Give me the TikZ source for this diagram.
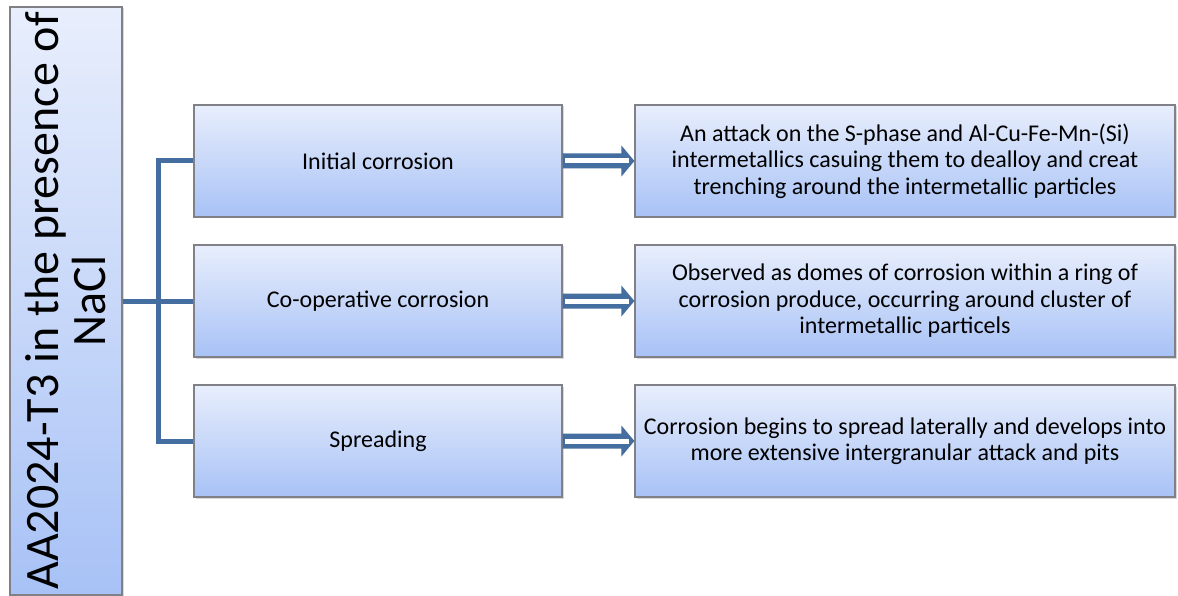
\documentclass[tikz,border=0pt]{standalone}
\usepackage{fontspec}
\setmainfont{Carlito}
\usetikzlibrary{shadows,calc}
\definecolor{connc}{RGB}{68,110,160}
\definecolor{boxtop}{RGB}{232,238,252}
\definecolor{boxbot}{RGB}{168,194,246}
\definecolor{boxline}{RGB}{128,128,134}
\newcommand\dblarrow[2]{%
  \fill[connc] ($(#1.east)+(0,-7.5)$) -- ($(#2.west)+(-13,-7.5)$) -- ($(#2.west)+(-13,-15.5)$) -- (#2.west) -- ($(#2.west)+(-13,15.5)$) -- ($(#2.west)+(-13,7.5)$) -- ($(#1.east)+(0,7.5)$) -- cycle;
  \fill[white] ($(#1.east)+(2.5,-2.5)$) rectangle ($(#2.west)+(-5,2.5)$);}
\begin{document}
\begin{tikzpicture}[x=1pt,y=-1pt,
  box/.style={draw=boxline, line width=1.2pt, top color=boxtop, bottom color=boxbot,
    align=center, inner sep=4pt,
    drop shadow={opacity=0.3, shadow xshift=1.5pt, shadow yshift=-1.5pt},
    font=\fontsize{24}{26.5}\selectfont},
  midbox/.style={box, minimum width=368pt, minimum height=112pt},
  rightbox/.style={box, minimum width=540pt, minimum height=112pt},
  conn/.style={draw=connc, line width=5pt}]
\useasboundingbox (0,0) rectangle (1178,596);
\node[box, minimum width=112pt, minimum height=588pt] (src) at (66,301) {};
\node[rotate=90, align=center, font=\fontsize{48}{47}\selectfont] (srctext) at (src.center) {AA2024-T3 in the presence of\\NaCl};

\node[midbox] (m1) at (378,161) {Initial corrosion};
\node[midbox] (m2) at (378,301) {Co-operative corrosion};
\node[midbox] (m3) at (378,441) {Spreading};

\node[rightbox] (r1) at (905,161) {An attack on the S-phase and Al-Cu-Fe-Mn-(Si)\\intermetallics casuing them to dealloy and creat\\trenching around the intermetallic particles};
\node[rightbox] (r2) at (905,301) {Observed as domes of corrosion within a ring of\\corrosion produce, occurring around cluster of\\intermetallic particels};
\node[rightbox] (r3) at (905,441) {Corrosion begins to spread laterally and develops into\\more extensive intergranular attack and pits};

\coordinate (b1) at (158,161);
\coordinate (b3) at (158,441);
\draw[conn] (src.east) -- (m2.west);
\draw[conn] (m1.west) -- (b1) -- (b3) -- (m3.west);

\dblarrow{m1}{r1}
\dblarrow{m2}{r2}
\dblarrow{m3}{r3}
\end{tikzpicture}
\end{document}
